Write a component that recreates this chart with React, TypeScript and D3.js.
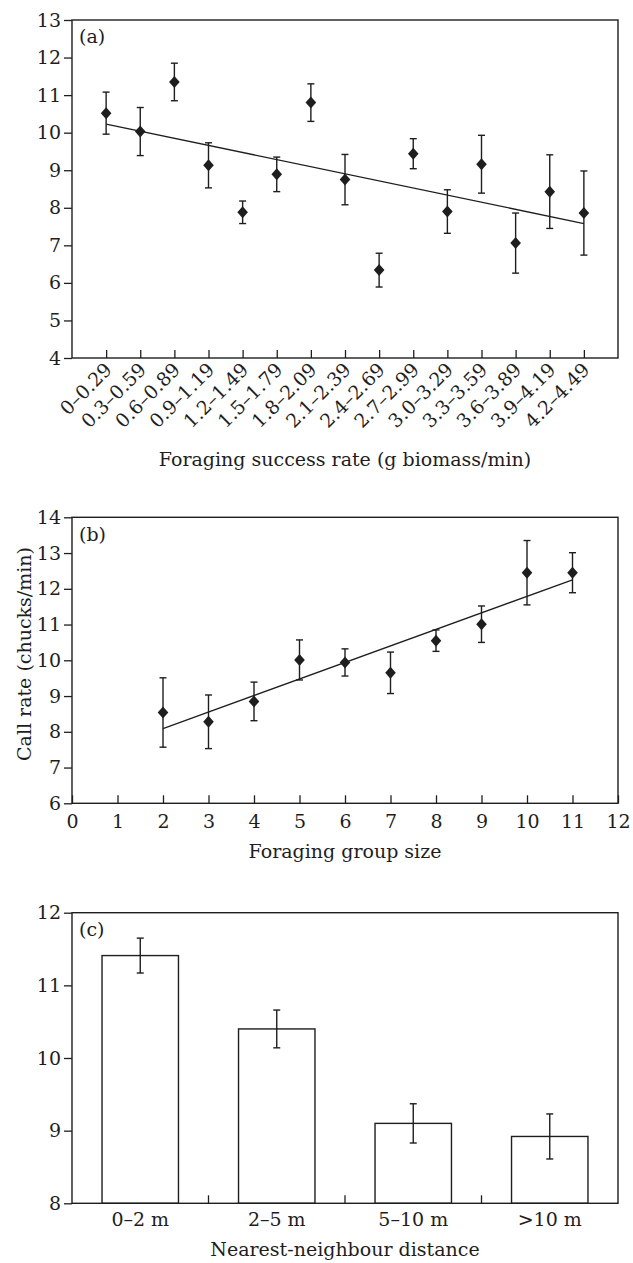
import React, { useRef, useEffect } from 'react';
import * as d3 from 'd3';

// (a) call rate by foraging success class
const successClasses = [
  '0–0.29', '0.3–0.59', '0.6–0.89', '0.9–1.19', '1.2–1.49', '1.5–1.79', '1.8–2.09', '2.1–2.39',
  '2.4–2.69', '2.7–2.99', '3.0–3.29', '3.3–3.59', '3.6–3.89', '3.9–4.19', '4.2–4.49',
];
const successMeans = [10.52, 10.03, 11.35, 9.13, 7.88, 8.89, 10.8, 8.75, 6.34, 9.44, 7.9, 9.16, 7.06, 8.43, 7.86];
const successErrors = [0.56, 0.64, 0.5, 0.6, 0.3, 0.46, 0.5, 0.67, 0.45, 0.4, 0.58, 0.77, 0.8, 0.98, 1.12];
const successTrend = [10.23, 7.58];
const successTicks = [4, 5, 6, 7, 8, 9, 10, 11, 12, 13];

// (b) call rate by group size
const groupSizes = [2, 3, 4, 5, 6, 7, 8, 9, 10, 11];
const groupMeans = [8.54, 8.28, 8.85, 10.01, 9.94, 9.65, 10.55, 11.01, 12.45, 12.45];
const groupErrors = [0.97, 0.75, 0.54, 0.56, 0.38, 0.58, 0.3, 0.51, 0.9, 0.56];
const groupTrend = [8.09, 12.25];
const groupXTicks = [0, 1, 2, 3, 4, 5, 6, 7, 8, 9, 10, 11, 12];
const groupYTicks = [6, 7, 8, 9, 10, 11, 12, 13, 14];

// (c) call rate by nearest-neighbour distance
const distanceClasses = ['0–2 m', '2–5 m', '5–10 m', '>10 m'];
const distanceMeans = [11.41, 10.4, 9.1, 8.92];
const distanceErrors = [0.24, 0.26, 0.27, 0.31];
const distanceTicks = [8, 9, 10, 11, 12];

const FONT = 'DejaVu Serif';
const INK = '#1e1e1e';

export default function App() {
  const ref = useRef<SVGSVGElement>(null);

  useEffect(() => {
    const svg = d3.select(ref.current);
    svg.selectAll('*').remove();

    const width = 633, height = 1263;
    const left = 72, right = 618;
    svg.attr('width', width).attr('height', height)
      .style('font-family', FONT)
      .style('font-size', '19px');

    const diamond = 'M0,-6L5.3,0L0,6L-5.3,0Z';

    const frame = (top: number, bottom: number) => {
      svg.append('rect')
        .attr('x', left).attr('y', top)
        .attr('width', right - left).attr('height', bottom - top)
        .attr('fill', 'none').attr('stroke', INK).attr('stroke-width', 1.4);
    };

    const yAxis = (y: any, ticks: number[]) => {
      const g = svg.append('g')
        .attr('transform', `translate(${left},0)`)
        .call(d3.axisLeft(y).tickValues(ticks).tickSize(8).tickPadding(3).tickFormat(d3.format('d')));
      g.select('.domain').remove();
      g.selectAll('line').attr('stroke', INK).attr('stroke-width', 1.3);
      g.selectAll('text').attr('fill', INK).style('font-size', '19px').style('font-family', FONT);
      return g;
    };

    const errorBars = (pts: { x: number; lo: number; hi: number }[]) => {
      const g = svg.append('g').attr('stroke', INK).attr('stroke-width', 1.4);
      pts.forEach(p => {
        g.append('line').attr('x1', p.x).attr('x2', p.x).attr('y1', p.lo).attr('y2', p.hi);
        g.append('line').attr('x1', p.x - 3.5).attr('x2', p.x + 3.5).attr('y1', p.lo).attr('y2', p.lo);
        g.append('line').attr('x1', p.x - 3.5).attr('x2', p.x + 3.5).attr('y1', p.hi).attr('y2', p.hi);
      });
    };

    const panelLabel = (text: string, y: number) => {
      svg.append('text').attr('x', 79).attr('y', y).attr('fill', INK).text(text);
    };

    // ---------- panel (a) ----------
    const aTop = 20, aBottom = 358;
    const xa = d3.scalePoint<string>().domain(successClasses).range([left, right]).padding(1);
    const ya = d3.scaleLinear().domain([4, 13]).range([aBottom, aTop]);

    const axA = svg.append('g')
      .attr('transform', `translate(0,${aBottom})`)
      .call(d3.axisBottom(xa).tickSize(-8).tickFormat(() => ''));
    axA.select('.domain').remove();
    axA.selectAll('line').attr('stroke', INK).attr('stroke-width', 1.3);

    svg.append('g').selectAll('text')
      .data(successClasses)
      .join('text')
        .attr('text-anchor', 'end')
        .attr('fill', INK)
        .attr('transform', d => `translate(${(xa(d) as number) + 7},${aBottom + 13}) rotate(-45)`)
        .text(d => d);

    yAxis(ya, successTicks);
    frame(aTop, aBottom);

    svg.append('path')
      .attr('d', d3.line()([
        [xa(successClasses[0]) as number, ya(successTrend[0])],
        [xa(successClasses[successClasses.length - 1]) as number, ya(successTrend[1])],
      ]))
      .attr('stroke', INK).attr('stroke-width', 1.3).attr('fill', 'none');

    errorBars(successClasses.map((c, i) => ({
      x: xa(c) as number, lo: ya(successMeans[i] - successErrors[i]), hi: ya(successMeans[i] + successErrors[i]),
    })));

    svg.append('g').selectAll('path')
      .data(successClasses)
      .join('path')
        .attr('d', diamond)
        .attr('fill', INK)
        .attr('transform', (d, i) => `translate(${xa(d)},${ya(successMeans[i])})`);

    panelLabel('(a)', 43);
    svg.append('text').attr('x', (left + right) / 2).attr('y', 466)
      .attr('text-anchor', 'middle').attr('fill', INK)
      .text('Foraging success rate (g biomass/min)');

    // ---------- panel (b) ----------
    const bTop = 517.3, bBottom = 803.3;
    const xb = d3.scaleLinear().domain([0, 12]).range([left, right]);
    const yb = d3.scaleLinear().domain([6, 14]).range([bBottom, bTop]);

    const axB = svg.append('g')
      .attr('transform', `translate(0,${bBottom})`)
      .call(d3.axisBottom(xb).tickValues(groupXTicks).tickSize(-8).tickPadding(11).tickFormat(d3.format('d')));
    axB.select('.domain').remove();
    axB.selectAll('line').attr('stroke', INK).attr('stroke-width', 1.3);
    axB.selectAll('text').attr('fill', INK).style('font-size', '19px').style('font-family', FONT);

    yAxis(yb, groupYTicks);
    frame(bTop, bBottom);

    svg.append('path')
      .attr('d', d3.line()([
        [xb(groupSizes[0]), yb(groupTrend[0])],
        [xb(groupSizes[groupSizes.length - 1]), yb(groupTrend[1])],
      ]))
      .attr('stroke', INK).attr('stroke-width', 1.3).attr('fill', 'none');

    errorBars(groupSizes.map((s, i) => ({
      x: xb(s), lo: yb(groupMeans[i] - groupErrors[i]), hi: yb(groupMeans[i] + groupErrors[i]),
    })));

    svg.append('g').selectAll('path')
      .data(groupSizes)
      .join('path')
        .attr('d', diamond)
        .attr('fill', INK)
        .attr('transform', (d, i) => `translate(${xb(d)},${yb(groupMeans[i])})`);

    panelLabel('(b)', 541);
    svg.append('text').attr('x', (left + right) / 2).attr('y', 858)
      .attr('text-anchor', 'middle').attr('fill', INK)
      .text('Foraging group size');
    svg.append('text')
      .attr('transform', `translate(31,654) rotate(-90)`)
      .attr('text-anchor', 'middle').attr('fill', INK)
      .text('Call rate (chucks/min)');

    // ---------- panel (c) ----------
    const cTop = 912.7, cBottom = 1203.3;
    const xc = d3.scaleBand<string>().domain(distanceClasses).range([left, right])
      .paddingInner(0.44).paddingOuter(0.22);
    const yc = d3.scaleLinear().domain([8, 12]).range([cBottom, cTop]);
    const step = xc.step();

    svg.append('g').selectAll('rect')
      .data(distanceClasses)
      .join('rect')
        .attr('x', d => xc(d) as number)
        .attr('width', xc.bandwidth())
        .attr('y', (d, i) => yc(distanceMeans[i]))
        .attr('height', (d, i) => cBottom - yc(distanceMeans[i]))
        .attr('fill', 'white').attr('stroke', INK).attr('stroke-width', 1.4);

    // inward ticks between categories
    svg.append('g').selectAll('line')
      .data(distanceClasses.slice(1))
      .join('line')
        .attr('x1', d => (xc(d) as number) - (step - xc.bandwidth()) / 2)
        .attr('x2', d => (xc(d) as number) - (step - xc.bandwidth()) / 2)
        .attr('y1', cBottom).attr('y2', cBottom - 8)
        .attr('stroke', INK).attr('stroke-width', 1.3);

    svg.append('g').selectAll('text')
      .data(distanceClasses)
      .join('text')
        .attr('x', d => (xc(d) as number) + xc.bandwidth() / 2)
        .attr('y', 1226)
        .attr('text-anchor', 'middle').attr('fill', INK)
        .text(d => d);

    yAxis(yc, distanceTicks);
    frame(cTop, cBottom);

    errorBars(distanceClasses.map((c, i) => ({
      x: (xc(c) as number) + xc.bandwidth() / 2,
      lo: yc(distanceMeans[i] - distanceErrors[i]),
      hi: yc(distanceMeans[i] + distanceErrors[i]),
    })));

    panelLabel('(c)', 936);
    svg.append('text').attr('x', (left + right) / 2).attr('y', 1256)
      .attr('text-anchor', 'middle').attr('fill', INK)
      .text('Nearest-neighbour distance');
  }, []);

  return <svg ref={ref} style={{ position: 'absolute', left: 0, top: 0, background: 'white' }} />;
}
